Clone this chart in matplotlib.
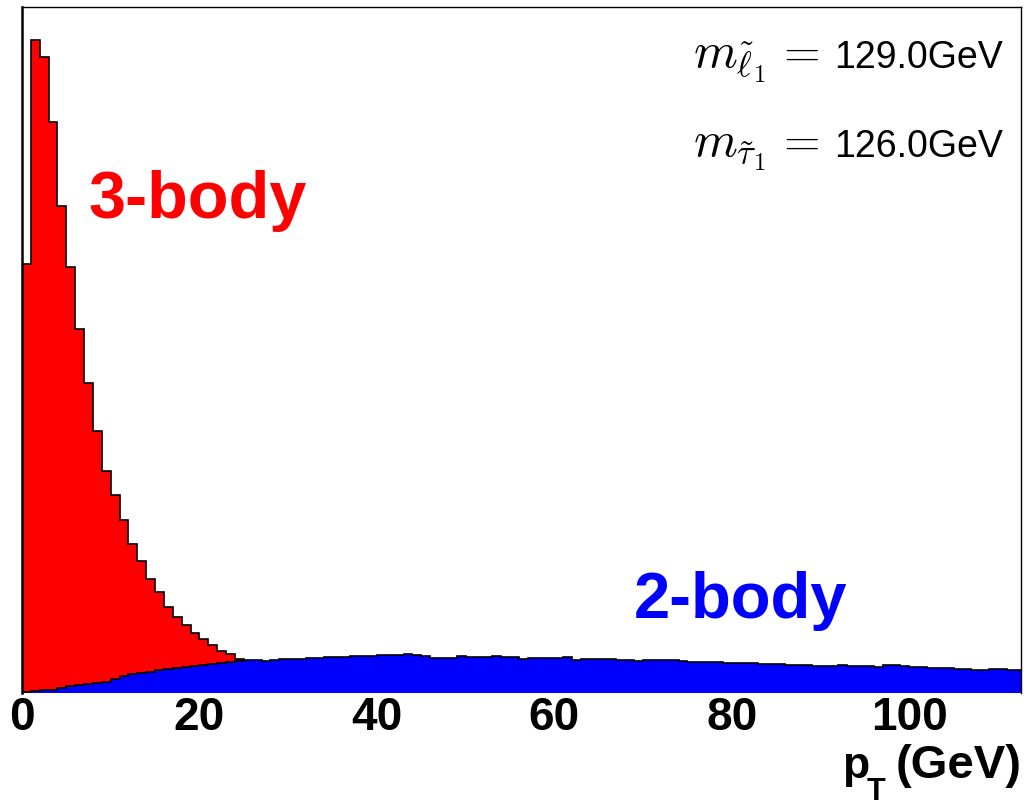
import numpy as np
import matplotlib
matplotlib.use("Agg")
import matplotlib.pyplot as plt

plt.rcParams['mathtext.fontset'] = 'cm'

# p_T histograms, 1 GeV bins (arbitrary units)
red_3body = [429, 653, 636, 571, 487, 426, 364, 310, 262, 222, 198, 173, 149,
             132, 114, 101, 86, 76, 68, 60, 54, 48, 42, 39, 34,
             30, 27, 24, 21, 18, 16, 14, 12, 10, 9, 8, 7, 6, 5, 4, 4, 3, 3,
             2, 2, 2, 1, 1, 1, 1]
blue_2body = [1, 2, 3, 3, 5, 7, 8, 9, 10, 11, 14, 17, 19,
              20, 21, 23, 24, 25, 26, 27, 28, 29, 30, 31, 32, 33,
              33, 32, 33, 34, 34, 34, 35, 35, 36, 36, 36, 37, 37, 37, 38,
              38, 38, 39, 38, 37, 35, 35, 35, 37, 36, 36, 36, 37, 36, 36, 34, 35, 35, 35, 35,
              36, 33, 34, 34, 34, 34, 33, 33, 32, 33, 33, 33, 33, 32, 31, 31, 31, 31, 30, 30,
              30, 30, 29, 29, 29, 28, 28, 28, 27, 27, 27, 28, 27, 27, 27, 26, 28, 28, 27, 26,
              26, 25, 25, 25, 24, 24, 23, 23, 24, 24, 23, 23]
xticks = [0, 20, 40, 60, 80, 100]
masses = ['129.0GeV', '126.0GeV']
mass_syms = [r'$m_{\tilde{\ell}_1}$', r'$m_{\tilde{\tau}_1}$']

W, H = 1028, 805
fig = plt.figure(figsize=(W / 100, H / 100), dpi=100)
ax = fig.add_axes([22 / W, (H - 693) / H, (1021 - 22) / W, (693 - 7) / H])

edges_r = np.arange(len(red_3body) + 1)
edges_b = np.arange(len(blue_2body) + 1)
ax.stairs(red_3body, edges_r, fill=True, facecolor='#ff0000', edgecolor='black', linewidth=1.2)
ax.stairs(blue_2body, edges_b, fill=True, facecolor='#0000ff', edgecolor='black', linewidth=1.2)

ax.set_xlim(0, 112.6)
ax.set_ylim(0, 686)
ax.set_yticks([])
ax.set_xticks(xticks)
ax.set_xticklabels([str(t) for t in xticks], fontsize=33, fontweight='bold',
                   family='Liberation Sans')
ax.tick_params(axis='x', length=0, pad=2)
for s in ['top', 'right']:
    ax.spines[s].set_linewidth(1.0)
ax.spines['left'].set_linewidth(1.8)
ax.spines['bottom'].set_visible(False)


def fx(x):
    return x / W


def fy(y):
    return 1 - y / H


# labels
fig.text(fx(89), fy(218), '3-body', color='#ff0000', fontsize=48, fontweight='bold',
         family='Liberation Sans', va='baseline', ha='left')
fig.text(fx(634), fy(618), '2-body', color='#0000ff', fontsize=47, fontweight='bold',
         family='Liberation Sans', va='baseline', ha='left')

# x label p_T (GeV)
fig.text(fx(842), fy(778), 'p', fontsize=32, fontweight='bold', family='Liberation Sans',
         va='baseline', ha='left')
fig.text(fx(867), fy(800), 'T', fontsize=22, fontweight='bold', family='Liberation Sans',
         va='baseline', ha='left')
fig.text(fx(1022), fy(778), '(GeV)', fontsize=34, fontweight='bold', family='Liberation Sans',
         va='baseline', ha='right')

# mass annotations
for sym, val, yb in zip(mass_syms, masses, [68, 157]):
    fig.text(fx(693), fy(yb), sym, fontsize=36, va='baseline', ha='left')
    fig.text(fx(797), fy(yb - 2), r'$=$', fontsize=34, va='baseline', ha='center')
    fig.text(fx(1003), fy(yb), val, fontsize=27, family='Liberation Sans',
             va='baseline', ha='right')

fig.savefig('out.png', dpi=100)
